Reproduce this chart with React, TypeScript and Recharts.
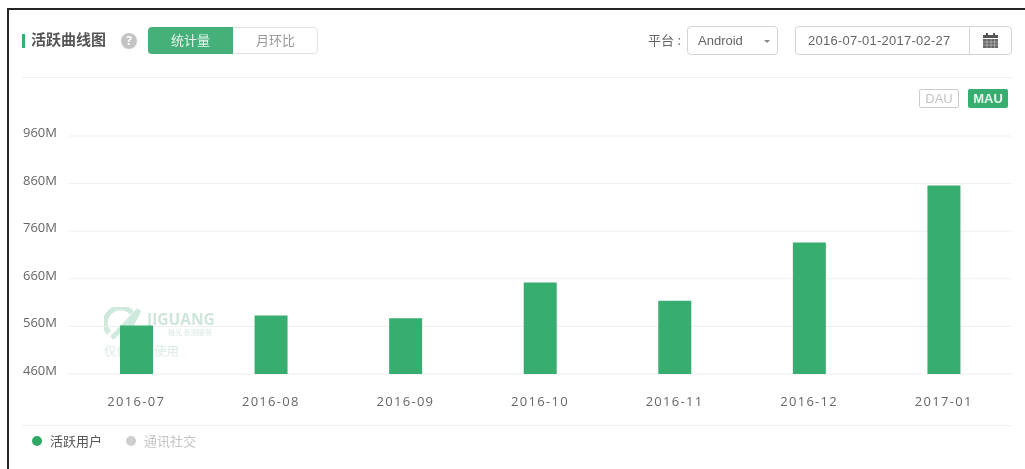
import React from "react";
import { BarChart, Bar, XAxis, YAxis, CartesianGrid, Legend } from "recharts";

const months = ["2016-07", "2016-08", "2016-09", "2016-10", "2016-11", "2016-12", "2017-01"];
const activeUsers = [562, 583, 577, 652, 614, 736, 856];
const yTicks = [460, 560, 660, 760, 860, 960];
const legendNames = ["活跃用户", "通讯社交"];
const legendColors = ["#2fa866", "#cfcfcf"];
const legendTextColors = ["#555", "#c4c4c4"];

const data = months.map((m, i) => ({ month: m, users: activeUsers[i] }));

const FONT = '"Open Sans", "Noto Sans CJK SC", sans-serif';
const ARIAL = '"Liberation Sans", "Noto Sans CJK SC", sans-serif';
const GREEN = "#37ae6f";

const YTick = (p: any) => (
  <text x={23} y={p.y + 1} fill="#666" fontSize={13} fontFamily={FONT} textAnchor="start">
    {p.payload.value}M
  </text>
);
const XTick = (p: any) => (
  <text x={p.x} y={p.y + 24} fill="#666" fontSize={13} fontFamily={FONT} textAnchor="middle" letterSpacing={1.3}>
    {p.payload.value}
  </text>
);

const LegendContent = () => (
  <div style={{ display: "flex", fontFamily: FONT, fontSize: 13, lineHeight: "18px" }}>
    {legendNames.map((n, i) => (
      <div key={n} style={{ display: "flex", alignItems: "center", marginRight: 24, color: legendTextColors[i] }}>
        <span style={{ width: 10, height: 10, borderRadius: 5, background: legendColors[i], marginRight: 8 }} />
        {n}
      </div>
    ))}
  </div>
);

const box = (s: React.CSSProperties): React.CSSProperties => ({ position: "absolute", boxSizing: "border-box", ...s });

export default function App() {
  return (
    <div style={box({ left: 0, top: 0, width: 1025, height: 469, background: "#fff", overflow: "hidden", fontFamily: FONT, filter: "blur(0.35px)" })}>
      {/* frame */}
      <div style={box({ left: 7, top: 8, width: 1018, height: 2, background: "#262626" })} />
      <div style={box({ left: 7, top: 8, width: 2, height: 461, background: "#262626" })} />

      {/* header */}
      <div style={box({ left: 22, top: 34, width: 3, height: 14, background: GREEN })} />
      <div style={box({ left: 31, top: 29, fontSize: 15, fontWeight: 700, color: "#555", lineHeight: "20px" })}>活跃曲线图</div>
      <div style={box({ left: 121, top: 33, width: 16, height: 16, borderRadius: 8, background: "#c4c4c4", color: "#fff", fontSize: 12, fontWeight: 700, textAlign: "center", lineHeight: "16px" })}>?</div>
      <div style={box({ left: 148, top: 27, width: 170, height: 27, border: "1px solid #e2e2e2", borderRadius: 4 })} />
      <div style={box({ left: 148, top: 27, width: 85, height: 27, background: "#46b07a", borderRadius: "4px 0 0 4px", color: "#e8f5ee", fontSize: 13, textAlign: "center", lineHeight: "27px" })}>统计量</div>
      <div style={box({ left: 233, top: 27, width: 85, height: 27, color: "#999", fontSize: 13, textAlign: "center", lineHeight: "27px" })}>月环比</div>

      <div style={box({ left: 648, top: 31, fontSize: 13, color: "#666", lineHeight: "18px" })}>平台 :</div>
      <div style={box({ left: 687, top: 26, width: 91, height: 29, border: "1px solid #d5d5d5", borderRadius: 4, paddingLeft: 10, fontFamily: ARIAL, fontSize: 13, color: "#666", lineHeight: "27px" })}>Android</div>
      <div style={box({ left: 764, top: 40, width: 0, height: 0, borderLeft: "3.5px solid transparent", borderRight: "3.5px solid transparent", borderTop: "3.5px solid #888" })} />
      <div style={box({ left: 795, top: 26, width: 217, height: 29, border: "1px solid #d5d5d5", borderRadius: 4, paddingLeft: 12, fontFamily: ARIAL, fontSize: 13, letterSpacing: 0.25, color: "#666", lineHeight: "27px", whiteSpace: "nowrap" })}>2016-07-01-2017-02-27</div>
      <div style={box({ left: 969, top: 27, width: 1, height: 27, background: "#d5d5d5" })} />
      <svg width={16} height={17} style={{ position: "absolute", left: 983, top: 33 }}>
        <rect x={3} y={0} width={2} height={3} fill="#555" />
        <rect x={10} y={0} width={2} height={3} fill="#555" />
        <rect x={0} y={2} width={15} height={3} fill="#555" />
        <rect x={0} y={6} width={15} height={9} fill="#666" />
        <path d="M4 6V15M8 6V15M11.5 6V15M0 9H15M0 12H15" stroke="#bbb" strokeWidth={0.7} />
      </svg>

      <div style={box({ left: 22, top: 77, width: 990, height: 1, background: "#efefef" })} />
      <div style={box({ left: 22, top: 425, width: 990, height: 1, background: "#efefef" })} />

      {/* DAU / MAU */}
      <div style={box({ left: 919, top: 89, width: 40, height: 19, border: "1px solid #ccc", borderRadius: 2, color: "#c4c4c4", fontFamily: ARIAL, fontSize: 13, textAlign: "center", lineHeight: "17px" })}>DAU</div>
      <div style={box({ left: 968, top: 89, width: 40, height: 19, background: GREEN, borderRadius: 2, color: "#e8f5ee", fontFamily: ARIAL, fontSize: 13, fontWeight: 700, textAlign: "center", lineHeight: "19px" })}>MAU</div>

      {/* watermark, under the bars */}
      <div style={box({ left: 104, top: 307, width: 120, height: 55, pointerEvents: "none" })}>
        <svg width={38} height={34} style={{ position: "absolute", left: 0, top: 0 }}>
          <path d="M5 26 A14 14 0 0 1 28 6" fill="none" stroke="#cfe9dc" strokeWidth={5} />
          <path d="M8 31 L35 3 L22 28" fill="none" stroke="#cfe9dc" strokeWidth={5} />
        </svg>
        <div style={box({ left: 43, top: 3, fontSize: 15.5, fontWeight: 700, color: "#cfe5da", lineHeight: "18px" })}>JIGUANG</div>
        <div style={box({ left: 64, top: 21, fontSize: 7, color: "#d5e8df", lineHeight: "9px", whiteSpace: "nowrap" })}>极光 系测服务</div>
        <div style={box({ left: 0, top: 38, fontSize: 12.5, color: "#dcebe4", lineHeight: "14px", whiteSpace: "nowrap" })}>仅供内部使用</div>
      </div>

      <div style={box({ left: 0, top: 0 })}>
        <BarChart
          width={1025}
          height={469}
          data={data}
          margin={{ top: 136, right: 14, bottom: 51, left: 0 }}
          style={{ background: "transparent" }}
        >
          <CartesianGrid horizontal vertical={false} stroke="#eeeeee" />
          <XAxis dataKey="month" axisLine={false} tickLine={false} tick={<XTick />} height={26} interval={0} />
          <YAxis width={69} domain={[460, 960]} ticks={yTicks} allowDataOverflow axisLine={false} tickLine={false} tick={<YTick />} />
          <Bar dataKey="users" fill={GREEN} barSize={33} isAnimationActive={false} />
          <Legend content={<LegendContent />} wrapperStyle={{ left: 32, top: 432, bottom: "auto", width: 300 }} />
        </BarChart>
      </div>
    </div>
  );
}
